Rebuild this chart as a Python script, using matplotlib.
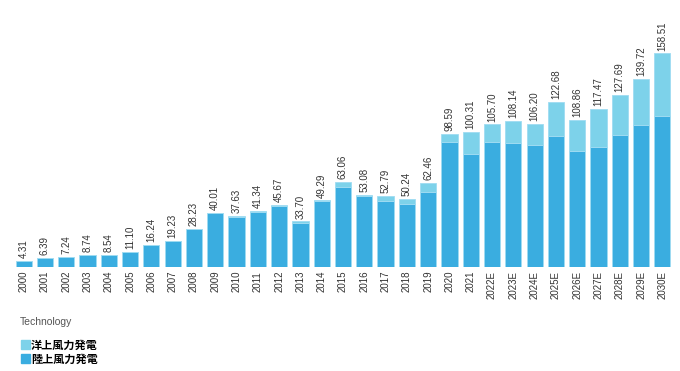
import matplotlib
matplotlib.use("Agg")
import matplotlib.pyplot as plt
from matplotlib.patches import Patch
import numpy as np

years = ["2000", "2001", "2002", "2003", "2004", "2005", "2006", "2007", "2008", "2009",
         "2010", "2011", "2012", "2013", "2014", "2015", "2016", "2017", "2018", "2019",
         "2020", "2021", "2022E", "2023E", "2024E", "2025E", "2026E", "2027E", "2028E",
         "2029E", "2030E"]
totals = [4.31, 6.39, 7.24, 8.74, 8.54, 11.10, 16.24, 19.23, 28.23, 40.01,
          37.63, 41.34, 45.67, 33.70, 49.29, 63.06, 53.08, 52.79, 50.24, 62.46,
          98.59, 100.31, 105.70, 108.14, 106.20, 122.68, 108.86, 117.47, 127.69,
          139.72, 158.51]
onshore = [4.31, 6.39, 7.24, 8.64, 8.54, 11.00, 16.14, 19.13, 28.13, 39.81,
           36.73, 40.94, 44.87, 32.20, 48.79, 59.00, 52.58, 48.80, 46.30, 55.30,
           92.40, 83.50, 92.60, 91.70, 90.20, 97.30, 86.00, 88.70, 98.10,
           105.30, 112.00]
offshore = [t - o for t, o in zip(totals, onshore)]

c_on = "#3AADE0"
c_off = "#7DD2EA"
edge = "#9fdcf2"

fig = plt.figure(figsize=(6.8, 3.71), dpi=100)
ax = fig.add_axes([13 / 680, 1 - 266.7 / 371, 660 / 680, (266.7 - 5) / 371])

x = np.arange(len(years))
ax.bar(x, onshore, width=0.76, color=c_on, edgecolor=edge, linewidth=0.6)
ax.bar(x, offshore, bottom=onshore, width=0.76, color=c_off, edgecolor=edge, linewidth=0.6)

for xi, t in zip(x, totals):
    ax.annotate(f"{t:.2f}", (xi, t), xytext=(0, 2), textcoords="offset points",
                rotation=90, ha="center", va="bottom", fontsize=7, color="#333333",
                family="Liberation Sans")

ax.set_xlim(-0.5, len(years) - 0.5)
ax.set_ylim(0, (266.7 - 5) / 1.346)
ax.set_xticks(x)
ax.set_xticklabels(years, rotation=90, fontsize=7, color="#333333", family="Liberation Sans")
ax.tick_params(axis="x", length=0, pad=3)
ax.set_yticks([])
for s in ax.spines.values():
    s.set_visible(False)

fig.text(20 / 680, 1 - 322 / 371, "Technology", fontsize=7.5, color="#555555",
         family="Liberation Sans", va="center")
leg = fig.legend(handles=[Patch(color=c_off, label="洋上風力発電"),
                          Patch(color=c_on, label="陸上風力発電")],
                 loc="upper left", bbox_to_anchor=(15 / 680, 1 - 333 / 371),
                 frameon=False, handlelength=0.85, handleheight=0.85, handletextpad=0.1,
                 labelspacing=0.1, borderpad=0,
                 prop={"family": ["Noto Sans CJK JP"], "size": 8, "weight": "bold"})

fig.savefig("out.png", dpi=100)
